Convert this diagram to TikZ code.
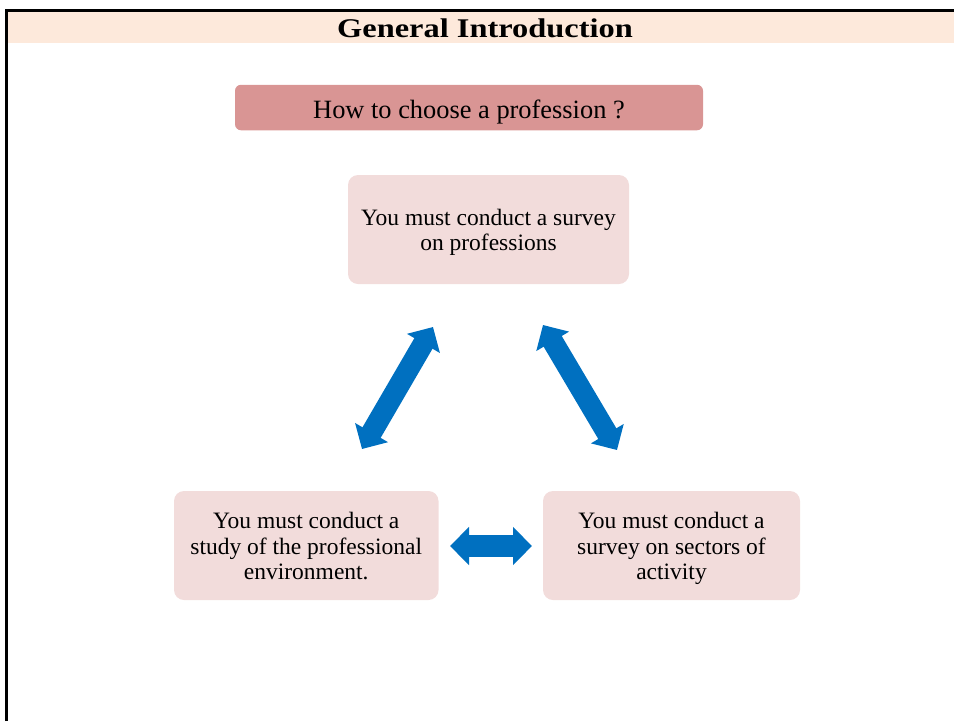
\documentclass[tikz,border=0pt]{standalone}
\usepackage{fontspec}
\setmainfont{Liberation Serif}
\newfontfamily\titlefont[FakeStretch=1.2]{Liberation Serif}
\usetikzlibrary{arrows.meta}
\definecolor{bannerfill}{HTML}{FDE9DB}
\definecolor{qfill}{HTML}{D99594}
\definecolor{boxfill}{HTML}{F2DCDB}
\definecolor{arrowblue}{HTML}{0070C0}
\newcommand{\toprule}[1]{\rule{0pt}{#1}}
\newcommand{\botrule}{\rule[-6pt]{0pt}{0pt}}
\tikzset{
  infobox/.style={fill=boxfill, draw=none, rounded corners=10pt, align=center, inner sep=0pt,
    font=\fontsize{23.5}{25.2}\selectfont},
  dblarrow/.style={arrowblue, line width=21pt, line cap=butt,
    {Triangle[width=37pt,length=19pt]}-{Triangle[width=37pt,length=19pt]}},
}
\begin{document}
\begin{tikzpicture}[x=1pt,y=-1pt]
\useasboundingbox (0,0) rectangle (954,721);
% banner
\node[fill=bannerfill, minimum width=946pt, minimum height=31pt, inner sep=0pt, anchor=north west] (banner) at (8,12) {};
\draw[line width=3.5pt, line join=miter] (6.7,721) -- (6.7,10.3) -- (954,10.3);
\node[anchor=base, inner sep=0pt, font=\titlefont\bfseries\fontsize{27}{30}\selectfont] (title) at (485,37.3) {General Introduction};
% question box
\node[fill=qfill, rounded corners=6pt, minimum width=468pt, minimum height=45.5pt, inner sep=0pt,
  font=\fontsize{26.4}{30}\selectfont] (question) at (469,107.5) {\rule{0pt}{27pt}How to choose a profession ?};
% boxes
\node[infobox, minimum width=281pt, minimum height=109pt] (top) at (488.5,229.5)
  {\toprule{23pt}You must conduct a survey\\on professions\botrule};
\node[infobox, minimum width=264.5pt, minimum height=109pt] (left) at (306.25,545.5)
  {\toprule{23pt}You must conduct a\\study of the professional\\environment.\botrule};
\node[infobox, minimum width=257pt, minimum height=109pt] (right) at (671.5,545.5)
  {\toprule{23pt}You must conduct a\\survey on sectors of\\activity\botrule};
% arrows
\coordinate (a1s) at (433,327);
\coordinate (a1e) at (362,449);
\coordinate (a2s) at (543,325);
\coordinate (a2e) at (617,450);
\coordinate (a3s) at (450,546);
\coordinate (a3e) at (532,546);
\draw[dblarrow] (a1s) -- (a1e);
\draw[dblarrow] (a2s) -- (a2e);
\draw[dblarrow, line width=22pt] (a3s) -- (a3e);
\end{tikzpicture}
\end{document}
